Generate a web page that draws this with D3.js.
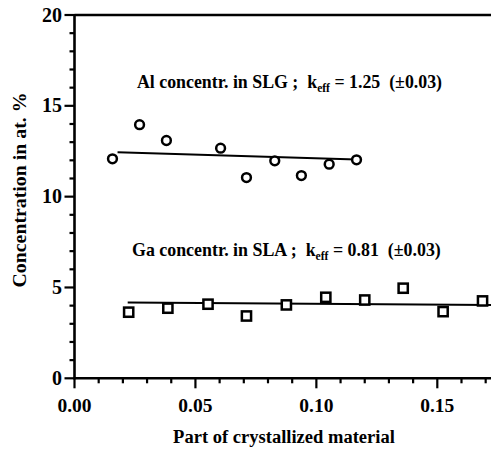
<!DOCTYPE html>
<html><head><meta charset="utf-8">
<script src="https://cdn.jsdelivr.net/npm/d3@7"></script>
</head>
<body style="margin:0">
<script>
// Data
const alX = [0.0157, 0.0269, 0.0380, 0.0604, 0.0711, 0.0828, 0.0938, 0.1053, 0.1166];
const alY = [12.08, 13.96, 13.09, 12.67, 11.05, 11.97, 11.16, 11.79, 12.03];
const gaX = [0.0224, 0.0386, 0.0552, 0.0711, 0.0876, 0.1039, 0.1200, 0.1359, 0.1524, 0.1687];
const gaY = [3.64, 3.86, 4.08, 3.43, 4.04, 4.46, 4.31, 4.96, 3.67, 4.26];
const alFitX = [0.0178, 0.1166];
const alFitY = [12.45, 12.05];
const gaFitX = [0.0220, 0.1722];
const gaFitY = [4.17, 4.04];
const xTicks = [0.00, 0.05, 0.10, 0.15];
const xTickLabels = ["0.00", "0.05", "0.10", "0.15"];
const yTicks = [0, 5, 10, 15, 20];
const yTickLabels = ["0", "5", "10", "15", "20"];
const xTitle = "Part of crystallized material";
const yTitle = "Concentration in at. %";

const FONT = "Liberation Serif";
const W = 491, H = 451;
const svg = d3.select("body").append("svg").attr("width", W).attr("height", H)
  .style("display", "block")
  .attr("font-family", FONT).attr("font-weight", "bold");
const x = d3.scaleLinear().domain([0, 0.1722]).range([74.5, 491]);
const y = d3.scaleLinear().domain([0, 20]).range([378.3, 15]);

function txt(sel) {
  return sel.attr("font-family", FONT).attr("font-weight", "bold").attr("fill", "#000");
}
// scale font so the text spans a target width
function fit(t, size, target) {
  t.attr("font-size", size);
  const w = t.node().getComputedTextLength();
  t.attr("font-size", (size * target / w).toFixed(2));
}

// top frame line
svg.append("line").attr("x1", x(0)).attr("x2", W).attr("y1", y(20)).attr("y2", y(20))
  .attr("stroke", "#000").attr("stroke-width", 2.6);

// x axis
const xAxis = svg.append("g").attr("transform", `translate(0,${y(0)})`);
xAxis.append("line").attr("x1", x(0) - 1).attr("x2", W).attr("stroke", "#000").attr("stroke-width", 2.6);
const xMinor = d3.range(0, 18).map(i => i * 0.01);
xAxis.selectAll("line.minor").data(xMinor).join("line").attr("class","minor")
  .attr("x1", d => x(d)).attr("x2", d => x(d)).attr("y1", 0)
  .attr("y2", (d, i) => i % 5 === 0 ? 10 : 5)
  .attr("stroke", "#000").attr("stroke-width", 2.2);
xAxis.selectAll("text").data(xTicks).join("text").call(txt)
  .attr("x", d => x(d)).attr("y", 33.5).attr("text-anchor", "middle")
  .attr("font-size", 19.5).text((d, i) => xTickLabels[i]);

// y axis
const yAxis = svg.append("g").attr("transform", `translate(${x(0)},0)`);
yAxis.append("line").attr("y1", y(0) + 1).attr("y2", y(20) - 1).attr("stroke", "#000").attr("stroke-width", 2.6);
const yMinor = d3.range(0, 21);
yAxis.selectAll("line.minor").data(yMinor).join("line").attr("class","minor")
  .attr("y1", d => y(d)).attr("y2", d => y(d)).attr("x1", 0)
  .attr("x2", d => d % 5 === 0 ? -10 : -5)
  .attr("stroke", "#000").attr("stroke-width", 2.2);
yAxis.selectAll("text").data(yTicks).join("text").call(txt)
  .attr("x", -12.5).attr("y", d => y(d) + 6.5).attr("text-anchor", "end")
  .attr("font-size", 20).text((d, i) => yTickLabels[i]);

// titles
const xt = svg.append("text").call(txt).attr("x", 284).attr("y", 443).attr("text-anchor", "middle").text(xTitle);
fit(xt, 18, 222);
const yt = svg.append("text").call(txt).attr("transform", "translate(26,190) rotate(-90)")
  .attr("text-anchor", "middle").text(yTitle);
fit(yt, 18, 195);

// fit lines
const line = d3.line().x(d => x(d[0])).y(d => y(d[1]));
svg.append("path").attr("d", line(d3.zip(alFitX, alFitY))).attr("fill", "none")
  .attr("stroke", "#000").attr("stroke-width", 2);
svg.append("path").attr("d", line(d3.zip(gaFitX, gaFitY))).attr("fill", "none")
  .attr("stroke", "#000").attr("stroke-width", 2);

// markers
svg.selectAll("circle.al").data(d3.zip(alX, alY)).join("circle").attr("class", "al")
  .attr("cx", d => x(d[0])).attr("cy", d => y(d[1])).attr("r", 4.4)
  .attr("fill", "#fff").attr("stroke", "#000").attr("stroke-width", 2.5);
svg.selectAll("rect.ga").data(d3.zip(gaX, gaY)).join("rect").attr("class", "ga")
  .attr("x", d => x(d[0]) - 4.6).attr("y", d => y(d[1]) - 4.6).attr("width", 9.2).attr("height", 9.2)
  .attr("fill", "#fff").attr("stroke", "#000").attr("stroke-width", 2.5);

// annotations
function annot(px, py, pre, val, target) {
  const t = svg.append("text").call(txt).attr("x", px).attr("y", py)
    .attr("xml:space", "preserve").style("white-space", "pre");
  t.append("tspan").text(pre + "  k");
  t.append("tspan").attr("dy", 4).attr("font-size", "0.65em").text("eff");
  t.append("tspan").attr("dy", -4).text(" = " + val + "  (±0.03)");
  fit(t, 17, target);
}
annot(137, 88, "Al concentr. in SLG ;", "1.25", 305);
annot(132, 256, "Ga concentr. in SLA ;", "0.81", 309);
</script>
</body></html>
